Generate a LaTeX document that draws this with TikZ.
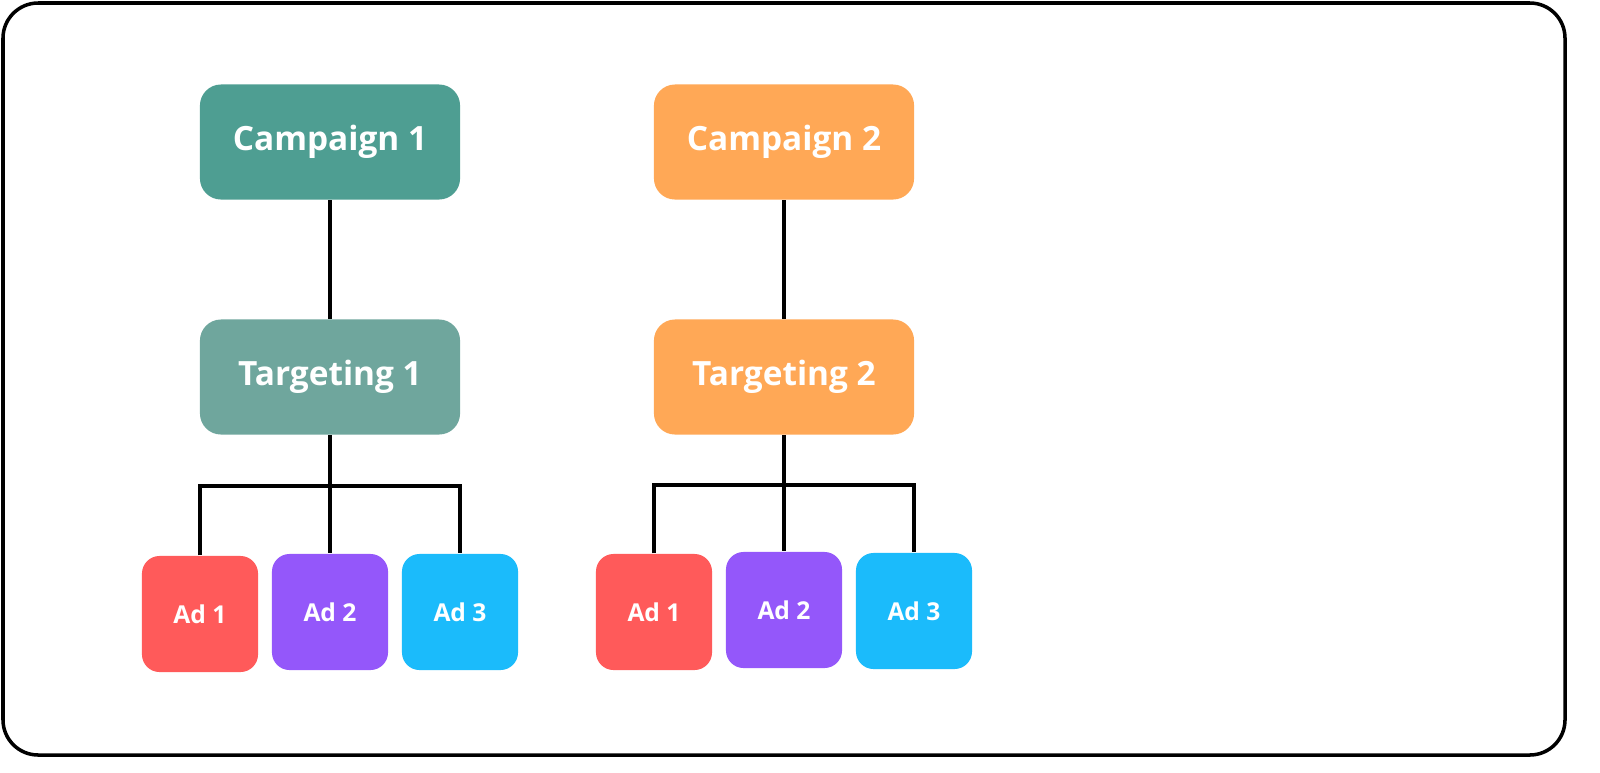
\documentclass[tikz,border=0pt]{standalone}
\usepackage{fontspec}
\setmainfont{Open Sans}
\definecolor{campteal}{HTML}{4E9E92}
\definecolor{targteal}{HTML}{6FA69D}
\definecolor{orng}{HTML}{FFA856}
\definecolor{adred}{HTML}{FF5A5A}
\definecolor{adpurple}{HTML}{9457FA}
\definecolor{adcyan}{HTML}{1BBBFB}
\tikzset{
  box/.style={rounded corners=6pt,text=white,font=\bfseries\fontsize{9.5}{11}\selectfont,
    minimum width=2.6cm,minimum height=1.15cm,inner sep=0pt},
  ad/.style={rounded corners=5pt,text=white,font=\bfseries\fontsize{7}{8}\selectfont,
    minimum width=1.16cm,minimum height=1.16cm,inner sep=0pt},
  wire/.style={line width=0.9pt,black}
}
\begin{document}
\begin{tikzpicture}[x=0.01cm,y=-0.01cm]
        \useasboundingbox (0,0) rectangle (1600,772);
        \draw[line width=1pt,rounded corners=10pt] (3,3) rectangle (1565,755);
        % Tree 1
        \node[box,fill=campteal] (camp1) at (330,142) {Campaign 1};
        \node[box,fill=targteal] (targ1) at (330,377) {Targeting 1};
        \node[ad,fill=adred] (ad11) at (200,614) {Ad 1};
        \node[ad,fill=adpurple] (ad12) at (330,612) {Ad 2};
        \node[ad,fill=adcyan] (ad13) at (460,612) {Ad 3};
        \coordinate (bus1) at (330,486);
        \draw[wire] (camp1) -- (targ1);
        \draw[wire] (targ1) -- (ad12);
        \draw[wire] (ad11.north) |- (bus1) -| (ad13.north);
        % Tree 2
        \node[box,fill=orng] (camp2) at (784,142) {Campaign 2};
        \node[box,fill=orng] (targ2) at (784,377) {Targeting 2};
        \node[ad,fill=adred] (ad21) at (654,612) {Ad 1};
        \node[ad,fill=adpurple] (ad22) at (784,610) {Ad 2};
        \node[ad,fill=adcyan] (ad23) at (914,611) {Ad 3};
        \coordinate (bus2) at (784,485);
        \draw[wire] (camp2) -- (targ2);
        \draw[wire] (targ2) -- (ad22);
        \draw[wire] (ad21.north) |- (bus2) -| (ad23.north);
      \end{tikzpicture}
\end{document}
